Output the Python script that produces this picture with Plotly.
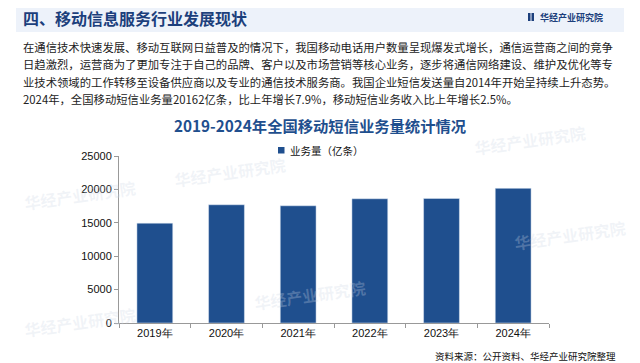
import plotly.graph_objects as go

years = ["2019年", "2020年", "2021年", "2022年", "2023年", "2024年"]
volume = [14950, 17700, 17550, 18600, 18650, 20162]
y_ticks = [0, 5000, 10000, 15000, 20000, 25000]

header_title = "四、移动信息服务行业发展现状"
brand = "华经产业研究院"
chart_title = "2019-2024年全国移动短信业务量统计情况"
series_name = "业务量（亿条）"
source_text = "资料来源：公开资料、华经产业研究院整理"
para_lines = [
    "在通信技术快速发展、移动互联网日益普及的情况下，我国移动电话用户数量呈现爆发式增长，通信运营商之间的竞争",
    "日趋激烈，运营商为了更加专注于自己的品牌、客户以及市场营销等核心业务，逐步将通信网络建设、维护及优化等专",
    "业技术领域的工作转移至设备供应商以及专业的通信技术服务商。我国企业短信发送量自2014年开始呈持续上升态势。",
    "2024年，全国移动短信业务量20162亿条，比上年增长7.9%，移动短信业务收入比上年增长2.5%。",
]

# page is shown with an 8px body margin; lay the figure out in page pixels
OFF = 8
PAGE_W, PAGE_H = 640, 363
W, H = PAGE_W - OFF, PAGE_H - OFF
# plot area in page pixels: x 119..549, y 156..323
ML, MR, MT, MB = 119 - OFF, PAGE_W - 549, 156 - OFF, PAGE_H - 323
PW, PH = W - ML - MR, H - MT - MB
CJK = "Noto Sans CJK SC"
BAR = "#1F4F8E"
DARK = "#1C3F7C"

fig = go.Figure()
fig.add_trace(go.Bar(x=years, y=volume, name=series_name, marker_color=BAR,
                     width=0.5, showlegend=False))

# paper coords are relative to the plot area; convert from page pixels
def px_x(x):
    return (x - OFF - ML) / PW

def px_y(y):
    return (H - MB - (y - OFF)) / PH

annotations = []
shapes = []

# header band
shapes.append(dict(type="rect", xref="paper", yref="paper",
                   x0=px_x(16), x1=px_x(624), y0=px_y(32), y1=px_y(8),
                   fillcolor="#EDF2FA", line_width=0, layer="below"))
annotations.append(dict(text="<b>" + header_title + "</b>", xref="paper", yref="paper",
                        x=px_x(21), y=px_y(18), xanchor="left", yanchor="middle",
                        showarrow=False, height=18, valign="middle",
                        font=dict(family=CJK, size=16, color=DARK)))
# brand logo
shapes.append(dict(type="rect", xref="paper", yref="paper",
                   x0=px_x(528), x1=px_x(530.5), y0=px_y(21), y1=px_y(13),
                   fillcolor=DARK, line_width=0))
shapes.append(dict(type="rect", xref="paper", yref="paper",
                   x0=px_x(531.5), x1=px_x(534), y0=px_y(21), y1=px_y(13),
                   fillcolor=DARK, line_width=0))
annotations.append(dict(text="<b>" + brand + "</b>", xref="paper", yref="paper",
                        x=px_x(538), y=px_y(17), xanchor="left", yanchor="middle",
                        showarrow=False, font=dict(family=CJK, size=9, color=DARK)))

# paragraph
for i, line in enumerate(para_lines):
    annotations.append(dict(text=line, xref="paper", yref="paper",
                            x=px_x(21), y=px_y(47 + i * 17.4), xanchor="left", yanchor="middle",
                            showarrow=False, font=dict(family=CJK, size=11.35, color="#222222")))

# chart title
annotations.append(dict(text="<b>" + chart_title + "</b>", xref="paper", yref="paper",
                        x=px_x(320), y=px_y(125), xanchor="center", yanchor="middle",
                        showarrow=False, font=dict(family=CJK, size=15.3, color="#1F4F8E")))

# legend (series name with square swatch)
shapes.append(dict(type="rect", xref="paper", yref="paper",
                   x0=px_x(278), x1=px_x(284.5), y0=px_y(153.5), y1=px_y(147),
                   fillcolor=BAR, line_width=0))
annotations.append(dict(text=series_name, xref="paper", yref="paper",
                        x=px_x(288), y=px_y(150), xanchor="left", yanchor="middle",
                        showarrow=False, font=dict(family=CJK, size=10.5, color="#111111")))

# source
annotations.append(dict(text=source_text, xref="paper", yref="paper",
                        x=px_x(618), y=px_y(356), xanchor="right", yanchor="middle",
                        showarrow=False, font=dict(family=CJK, size=9.5, color="#111111")))

# faint watermarks
for (wx, wy) in [(80, 195), (230, 172), (310, 295), (570, 235), (80, 322), (530, 140)]:
    annotations.append(dict(text="<b>" + brand + "</b>", xref="paper", yref="paper",
                            x=px_x(wx), y=px_y(wy), xanchor="center", yanchor="middle",
                            showarrow=False, textangle=-8,
                            font=dict(family=CJK, size=16, color="rgba(205,214,228,0.28)")))

fig.update_layout(
    width=W, height=H,
    margin=dict(l=ML, r=MR, t=MT, b=MB, autoexpand=False),
    paper_bgcolor="white", plot_bgcolor="white",
    showlegend=False,
    annotations=annotations,
    shapes=shapes,
)
fig.update_xaxes(type="category", showline=True, linecolor="#999999", linewidth=1,
                 ticks="outside", tickson="boundaries", ticklen=4, tickcolor="#999999",
                 tickfont=dict(family="Liberation Sans, Arial", size=11, color="#111111"),
                 showgrid=False, automargin=False)
fig.update_yaxes(range=[0, 25000], tickvals=y_ticks, tickformat="d", showline=True,
                 linecolor="#999999", linewidth=1, ticks="outside", ticklen=4,
                 tickcolor="#999999",
                 tickfont=dict(family="Liberation Sans, Arial", size=11, color="#111111"),
                 showgrid=False, zeroline=False, automargin=False)

fig.write_html("out.html")
